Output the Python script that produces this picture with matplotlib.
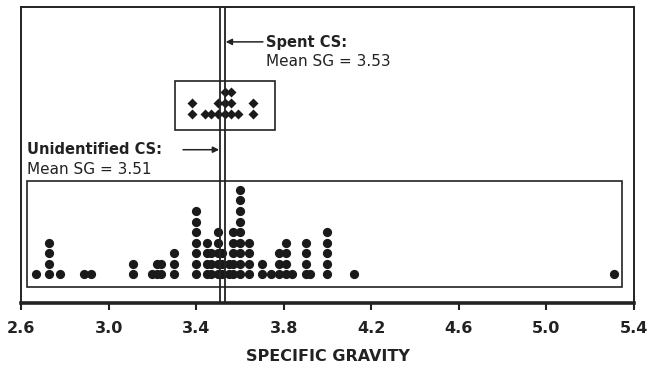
import matplotlib.pyplot as plt
from matplotlib.patches import Rectangle

# unidentified copper slag: SG value -> number of samples
unid_sg = [2.67, 2.73, 2.78, 2.89, 2.92, 3.11, 3.20, 3.22, 3.24, 3.30,
           3.40, 3.45, 3.47, 3.50, 3.52, 3.55, 3.57, 3.60, 3.64, 3.70,
           3.74, 3.78, 3.81, 3.84, 3.90, 3.92, 4.00, 4.12, 5.31]
unid_n = [1, 4, 1, 1, 1, 2, 1, 2, 2, 3,
          7, 4, 3, 5, 3, 2, 5, 9, 4, 2,
          1, 3, 4, 1, 4, 1, 5, 1, 1]

# spent copper slag
spent_sg = [3.38, 3.44, 3.47, 3.50, 3.53, 3.56, 3.59, 3.66]
spent_n = [2, 1, 1, 2, 3, 3, 1, 2]

mean_unid = 3.51
mean_spent = 3.53

xticks = [2.6, 3.0, 3.4, 3.8, 4.2, 4.6, 5.0, 5.4]

plt.rcParams['font.family'] = 'DejaVu Sans'

fig = plt.figure(figsize=(6.48, 3.68), dpi=100)
ax = fig.add_axes([0.0324, 0.1766, 0.9460, 0.8044])
ax.set_xlim(2.6, 5.4)
ax.set_ylim(0, 28)

# stacked dots, one column per value
xs, ys = [], []
for v, n in zip(unid_sg, unid_n):
    for i in range(n):
        xs.append(v)
        ys.append(2.7 + i)
ax.scatter(xs, ys, s=44, marker='o', color='#1a1a1a', linewidths=0, zorder=3)

xs, ys = [], []
for v, n in zip(spent_sg, spent_n):
    for i in range(n):
        xs.append(v)
        ys.append(17.9 + i * 1.04)
ax.scatter(xs, ys, s=26, marker='D', color='#1a1a1a', linewidths=0, zorder=3)

# group boxes
ax.add_patch(Rectangle((2.629, 1.5), 5.344 - 2.629, 10.0, fill=False,
                       lw=1.2, ec='#222222', zorder=2))
ax.add_patch(Rectangle((3.303, 16.4), 3.760 - 3.303, 4.6, fill=False,
                       lw=1.2, ec='#222222', zorder=2))

# mean lines
ax.axvline(mean_unid, color='#222222', lw=1.3, zorder=4)
ax.axvline(mean_spent, color='#222222', lw=1.3, zorder=4)

ax.annotate('', xy=(mean_spent + 0.005, 24.7), xytext=(3.705, 24.7),
            arrowprops=dict(arrowstyle='-|>', color='#222222', lw=1.1,
                            mutation_scale=9, shrinkA=0, shrinkB=0))
ax.text(3.72, 24.6, 'Spent CS:', fontsize=10.5, fontweight='bold',
        va='center', ha='left', color='#222222')
ax.text(3.72, 22.8, 'Mean SG = 3.53', fontsize=11, va='center',
        ha='left', color='#222222')

ax.annotate('', xy=(mean_unid - 0.005, 14.5), xytext=(3.34, 14.5),
            arrowprops=dict(arrowstyle='-|>', color='#222222', lw=1.1,
                            mutation_scale=9, shrinkA=0, shrinkB=0))
ax.text(2.627, 14.5, 'Unidentified CS:', fontsize=10.5, fontweight='bold',
        va='center', ha='left', color='#222222')
ax.text(2.627, 12.6, 'Mean SG = 3.51', fontsize=11, va='center',
        ha='left', color='#222222')

ax.set_xticks(xticks)
ax.set_xticklabels([f'{t:.1f}' for t in xticks], fontsize=11.5,
                   fontweight='bold', color='#222222')
ax.set_yticks([])
ax.tick_params(axis='x', length=5, width=1.5, color='#222222', pad=8)
for side in ['left', 'right', 'top']:
    ax.spines[side].set_linewidth(1.4)
    ax.spines[side].set_color('#222222')
ax.spines['bottom'].set_linewidth(2.6)
ax.spines['bottom'].set_color('#222222')

ax.set_xlabel('SPECIFIC GRAVITY', fontsize=11.5, fontweight='bold',
              color='#222222', labelpad=9)

fig.savefig('out.png', dpi=100)
